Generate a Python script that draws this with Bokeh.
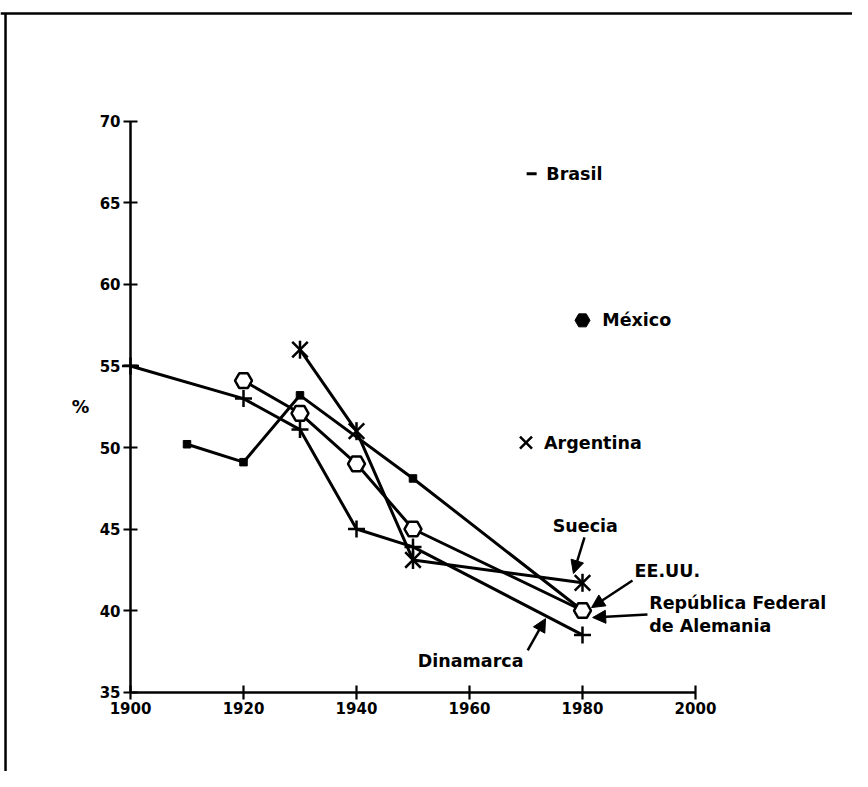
import math
from bokeh.plotting import figure
from bokeh.models import LinearAxis, FixedTicker, Range1d, Label, Arrow, NormalHead, Span
from bokeh.embed import file_html
from bokeh.resources import INLINE

# ---- data ----
din_years = [1900, 1920, 1930, 1940, 1950, 1980]      # Dinamarca (+)
din_vals = [55.0, 53.0, 51.1, 45.0, 43.9, 38.5]
sq_years = [1910, 1920, 1930, 1950, 1980]              # small squares
sq_vals = [50.2, 49.1, 53.2, 48.1, 40.0]
hex_years = [1920, 1930, 1940, 1950, 1980]             # open hexagons
hex_vals = [54.1, 52.1, 49.0, 45.0, 40.0]
sue_years = [1930, 1940, 1950, 1980]                   # Suecia (asterisk)
sue_vals = [56.0, 51.0, 43.1, 41.7]
bra_year, bra_val = [1971], [66.8]                     # Brasil
mex_year, mex_val = [1980], [57.8]                     # México
arg_year, arg_val = [1970], [50.3]                     # Argentina

x_ticks = [1900, 1920, 1940, 1960, 1980, 2000]
y_ticks = [35, 40, 45, 50, 55, 60, 65, 70]

FONT = "DejaVu Sans"

p = figure(width=852, height=771, output_backend="svg", toolbar_location=None,
           x_axis_type=None, y_axis_type=None,
           x_range=Range1d(1876.99, 2027.79), y_range=Range1d(30.123, 77.423),
           min_border=0, outline_line_color=None, background_fill_color="white",
           border_fill_color="white")

def style_axis(ax):
    ax.axis_line_width = 2.5
    ax.axis_line_color = "black"
    ax.major_tick_line_width = 2.2
    ax.major_tick_line_color = "black"
    ax.major_tick_in = 7
    ax.major_tick_out = 7
    ax.minor_tick_line_color = None
    ax.major_label_text_font = FONT
    ax.major_label_text_font_style = "bold"
    ax.major_label_text_font_size = "15px"
    ax.major_label_text_color = "black"

yax = LinearAxis(ticker=FixedTicker(ticks=y_ticks), fixed_location=1900, bounds=(35, 70))
style_axis(yax)
yax.major_label_standoff = 3
p.add_layout(yax, "left")

xax = LinearAxis(ticker=FixedTicker(ticks=x_ticks), fixed_location=35, bounds=(1900, 2000))
style_axis(xax)
xax.major_label_standoff = 3
p.add_layout(xax, "below")

# frame lines (top and left)
p.add_layout(Span(location=76.626, dimension="width", line_color="black", line_width=2.5))
p.line([1877.88, 1877.88], [76.626, 30.123], line_color="black", line_width=2.5)

LW = 3
p.line(din_years, din_vals, line_color="black", line_width=LW, line_join="round")
p.line(sq_years, sq_vals, line_color="black", line_width=LW, line_join="round")
p.line(hex_years, hex_vals, line_color="black", line_width=LW, line_join="round")
p.line(sue_years, sue_vals, line_color="black", line_width=LW, line_join="round")

p.scatter(din_years, din_vals, marker="cross", size=17, line_color="black", line_width=2.5)
p.scatter(sq_years, sq_vals, marker="square", size=7.5, fill_color="black", line_color="black")
p.scatter(hex_years, hex_vals, marker="hex", size=17, fill_color="white", line_color="black", line_width=2.5)
# six-armed asterisk: an X plus a vertical bar
p.scatter(sue_years, sue_vals, marker="x", size=22, line_color="black", line_width=2.5)
p.scatter(sue_years, sue_vals, marker="dash", angle=math.pi / 2, size=18, line_color="black", line_width=2.5)
p.scatter(bra_year, bra_val, marker="dash", size=10, line_color="black", line_width=3)
p.scatter(mex_year, mex_val, marker="hex", size=15, fill_color="black", line_color="black")
p.scatter(arg_year, arg_val, marker="x", size=17, line_color="black", line_width=2.5)

def lab(x, y, text, align="left", size="17.5px"):
    p.add_layout(Label(x=x, y=y, text=text, text_font=FONT, text_font_style="bold",
                       text_font_size=size, text_color="black", text_align=align,
                       text_baseline="middle"))

lab(1973.6, 66.8, "Brasil")
lab(1983.5, 57.8, "México")
lab(1973.2, 50.3, "Argentina")
lab(1980.5, 45.2, "Suecia", "center")
lab(1989.2, 42.4, "EE.UU.")
lab(1991.8, 40.43, "República Federal")
lab(1991.8, 39.02, "de Alemania")
lab(1960.2, 36.93, "Dinamarca", "center")
lab(1891.15, 52.47, "%", "center")

def arrow(x0, y0, x1, y1):
    p.add_layout(Arrow(end=NormalHead(size=13, fill_color="black", line_color="black", line_width=1),
                       x_start=x0, y_start=y0, x_end=x1, y_end=y1,
                       line_color="black", line_width=2.5))

arrow(1980.35, 44.48, 1978.4, 42.27)     # Suecia
arrow(1988.85, 41.84, 1981.6, 40.18)     # EE.UU.
arrow(1991.5, 39.75, 1981.8, 39.57)      # RFA
arrow(1970.3, 37.55, 1973.45, 39.5)      # Dinamarca

open("out.html", "w").write(file_html(p, INLINE))
